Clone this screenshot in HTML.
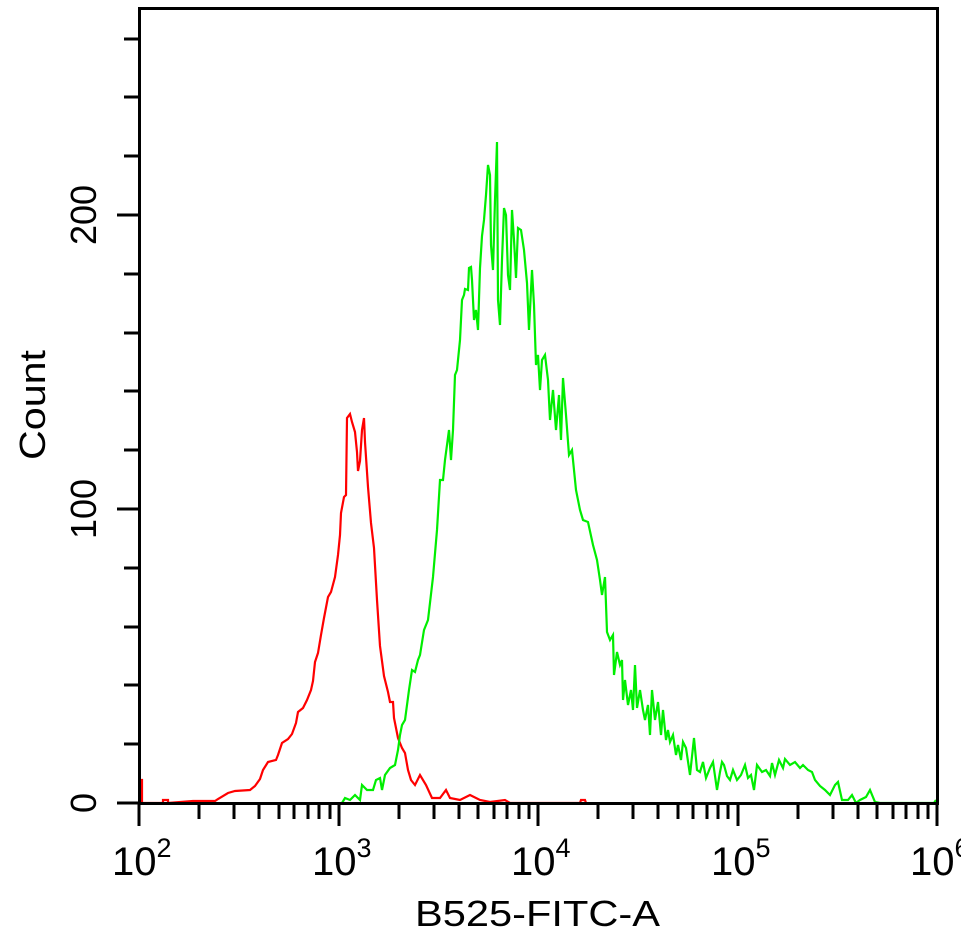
<!DOCTYPE html>
<html><head><meta charset="utf-8"><style>
html,body{margin:0;padding:0;background:#fff;}
svg{display:block;}
text{font-family:"Liberation Sans",Arial,sans-serif;fill:#000;}
</style></head><body>
<svg width="961" height="934" viewBox="0 0 961 934" xmlns="http://www.w3.org/2000/svg">
<rect width="961" height="934" fill="#fff"/>
<polyline fill="none" stroke="#ff0000" stroke-width="2.2" points="140,803 140,780 142,780 142,803 163,803 163,800 168,800 168,803 193,801 215,801 218,799 228,793 235,791 250,790 255,786 260,779 263,770 268,762 276,760 278,755 282,743 288,739 292,734 296,723 298,712 303,708 307,700 311,690 313,681 315,662 318,653 321,635 324,618 328,597 331,592 335,577 338,555 340,535 341,513 344,497 346,495 347,418 350,414 352,422 355,432 357,452 358,471 360,461 362,430 364,418 365,442 368,487 371,523 374,548 377,600 380,646 384,676 388,692 390,702 393,702 394,718 398,738 402,748 405,753 408,770 411,780 415,785 420,775 426,785 432,798 440,798 446,790 450,798 460,800 470,795 480,800 490,802 505,800 510,803 520,803 580,803 581,800 585,800 586,803"/>
<polyline fill="none" stroke="#00ee00" stroke-width="2.2" points="342,803 345,798 350,800 355,795 360,800 362,785 367,790 373,790 376,780 380,778 382,790 385,775 390,768 395,765 398,750 400,735 402,725 405,720 409,690 412,670 415,672 418,660 420,655 424,630 428,620 433,577 437,530 440,480 443,480 445,460 449,430 451,460 453,430 455,375 457,370 460,340 462,300 464,295 465,289 468,290 469,268 471,267 472,280 474,320 476,310 478,330 480,268 482,236 484,220 486,195 488,165 490,175 491,245 493,270 495,200 497,142 498,300 500,325 502,260 504,208 506,215 508,275 510,290 512,210 514,240 515,258 516,278 518,228 521,230 524,250 527,283 529,330 532,270 534,305 536,365 538,355 540,390 542,360 545,355 548,380 550,420 553,390 556,430 559,395 561,440 563,378 566,415 569,455 572,450 576,490 580,510 583,520 588,522 593,545 597,560 600,580 602,595 605,577 607,632 610,640 613,635 614,675 617,652 620,665 622,660 623,700 625,680 628,705 631,690 633,710 635,665 637,708 640,690 643,710 645,720 648,705 650,735 652,690 655,720 658,702 661,735 663,710 666,740 668,730 670,742 673,735 676,755 678,745 681,760 683,742 686,748 690,775 694,738 697,770 700,772 703,762 706,778 710,768 713,762 717,790 720,772 722,762 724,765 727,776 730,780 733,770 737,780 741,775 745,765 748,778 751,775 754,790 757,765 762,772 766,770 770,776 772,763 775,775 779,760 783,768 785,759 790,765 795,762 800,768 803,765 808,770 812,772 815,780 820,786 825,790 830,795 835,785 838,782 842,800 848,800 852,795 856,803 860,800 866,797 870,790 875,802 880,803 934,803 936,800"/>
<rect x="139.5" y="8.5" width="798" height="795" fill="none" stroke="#000" stroke-width="3"/>
<g stroke="#000" stroke-width="3">
<line x1="117" y1="803" x2="139" y2="803"/><line x1="124" y1="744" x2="139" y2="744"/><line x1="124" y1="685" x2="139" y2="685"/><line x1="124" y1="627" x2="139" y2="627"/><line x1="124" y1="568" x2="139" y2="568"/><line x1="117" y1="509" x2="139" y2="509"/><line x1="124" y1="450" x2="139" y2="450"/><line x1="124" y1="391" x2="139" y2="391"/><line x1="124" y1="333" x2="139" y2="333"/><line x1="124" y1="274" x2="139" y2="274"/><line x1="117" y1="215" x2="139" y2="215"/><line x1="124" y1="156" x2="139" y2="156"/><line x1="124" y1="97" x2="139" y2="97"/><line x1="124" y1="39" x2="139" y2="39"/>
</g>
<g stroke="#000" stroke-width="3">
<line x1="139" y1="803" x2="139" y2="826"/><line x1="339" y1="803" x2="339" y2="826"/><line x1="538" y1="803" x2="538" y2="826"/><line x1="738" y1="803" x2="738" y2="826"/><line x1="937" y1="803" x2="937" y2="826"/>
<line x1="199" y1="803" x2="199" y2="819"/><line x1="234" y1="803" x2="234" y2="819"/><line x1="259" y1="803" x2="259" y2="819"/><line x1="279" y1="803" x2="279" y2="819"/><line x1="294" y1="803" x2="294" y2="819"/><line x1="308" y1="803" x2="308" y2="819"/><line x1="319" y1="803" x2="319" y2="819"/><line x1="330" y1="803" x2="330" y2="819"/>
<line x1="399" y1="803" x2="399" y2="819"/><line x1="434" y1="803" x2="434" y2="819"/><line x1="459" y1="803" x2="459" y2="819"/><line x1="478" y1="803" x2="478" y2="819"/><line x1="494" y1="803" x2="494" y2="819"/><line x1="507" y1="803" x2="507" y2="819"/><line x1="519" y1="803" x2="519" y2="819"/><line x1="529" y1="803" x2="529" y2="819"/>
<line x1="598" y1="803" x2="598" y2="819"/><line x1="633" y1="803" x2="633" y2="819"/><line x1="658" y1="803" x2="658" y2="819"/><line x1="678" y1="803" x2="678" y2="819"/><line x1="693" y1="803" x2="693" y2="819"/><line x1="707" y1="803" x2="707" y2="819"/><line x1="718" y1="803" x2="718" y2="819"/><line x1="728" y1="803" x2="728" y2="819"/>
<line x1="798" y1="803" x2="798" y2="819"/><line x1="833" y1="803" x2="833" y2="819"/><line x1="858" y1="803" x2="858" y2="819"/><line x1="877" y1="803" x2="877" y2="819"/><line x1="893" y1="803" x2="893" y2="819"/><line x1="906" y1="803" x2="906" y2="819"/><line x1="918" y1="803" x2="918" y2="819"/><line x1="928" y1="803" x2="928" y2="819"/>
</g>
<g font-size="40">
<text x="112" y="875">10<tspan font-size="27" dy="-18">2</tspan></text>
<text x="312" y="875">10<tspan font-size="27" dy="-18">3</tspan></text>
<text x="511" y="875">10<tspan font-size="27" dy="-18">4</tspan></text>
<text x="711" y="875">10<tspan font-size="27" dy="-18">5</tspan></text>
<text x="910" y="875">10<tspan font-size="27" dy="-18">6</tspan></text>
</g>
<text x="415" y="926" font-size="36" textLength="245" lengthAdjust="spacingAndGlyphs">B525-FITC-A</text>
<g font-size="36" text-anchor="middle">
<text transform="translate(96,803) rotate(-90)">0</text>
<text transform="translate(96,509) rotate(-90)">100</text>
<text transform="translate(96,215) rotate(-90)">200</text>
</g>
<text transform="translate(45,460) rotate(-90)" font-size="36" textLength="110" lengthAdjust="spacingAndGlyphs">Count</text>
</svg>
</body></html>
